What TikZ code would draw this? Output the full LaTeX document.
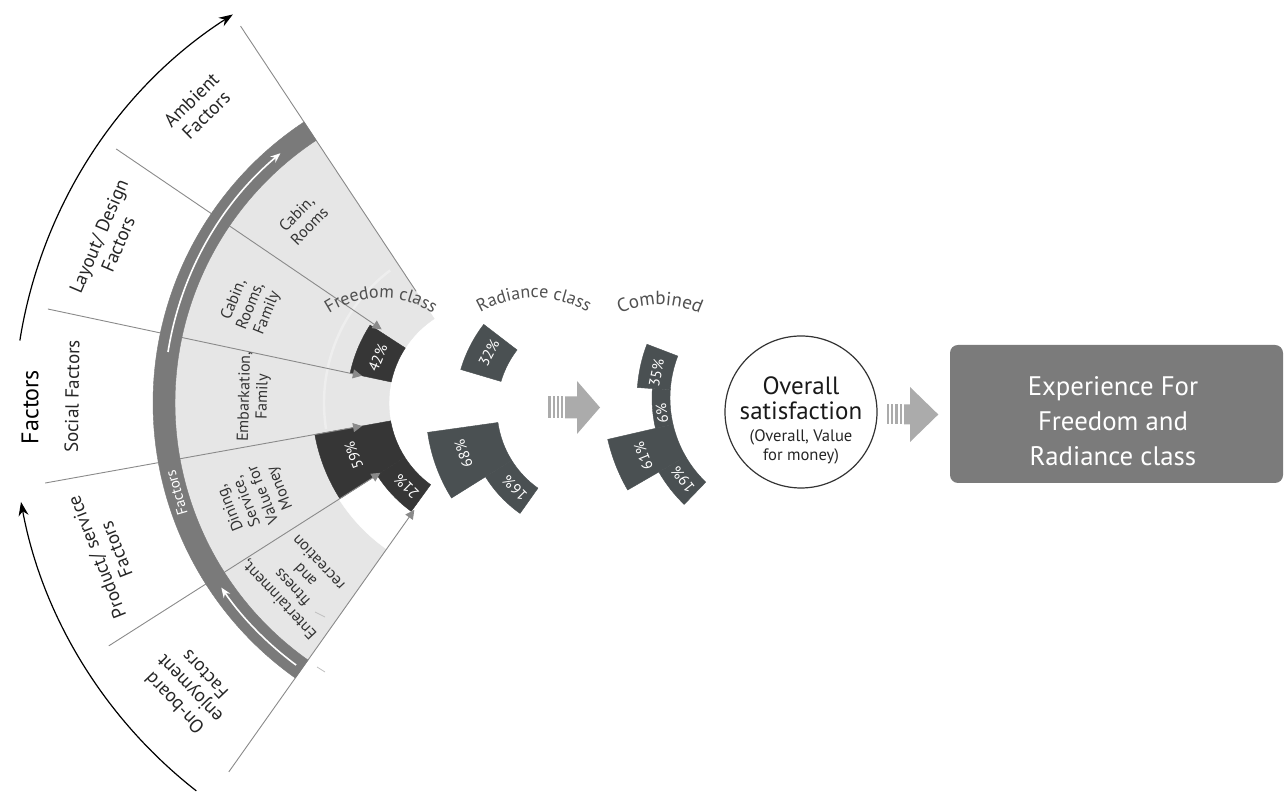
\documentclass[tikz,border=0pt]{standalone}
\usepackage{fontspec}
\setmainfont{PT Sans}
\usetikzlibrary{calc,arrows.meta,decorations.text}
\definecolor{lg}{HTML}{E6E6E6}
\definecolor{bandc}{HTML}{7A7A7A}
\definecolor{fblk}{HTML}{363636}
\definecolor{rblk}{HTML}{4A5052}
\definecolor{radc}{HTML}{8A8A8A}
\definecolor{agray}{HTML}{ABABAB}
\definecolor{boxg}{HTML}{7B7B7B}
\definecolor{lblc}{HTML}{505050}
\newcommand{\annsec}[6]{%
  \path[fill=#1, draw=#1, line width=0.2pt] ($(#2)+(#3:#5)$) arc[start angle=#3, end angle=#4, radius=#5]
    -- ($(#2)+(#4:#6)$) arc[start angle=#4, end angle=#3, radius=#6] -- cycle;}
\begin{document}
\begin{tikzpicture}[x=0.5pt,y=0.5pt,
  outlbl/.style={align=center, text=black!85, font=\fontsize{9.5}{10.5}\selectfont, inner sep=0pt},
  inlbl/.style={align=center, text=black!80, font=\fontsize{8}{9}\selectfont, inner sep=0pt},
  pct/.style={text=white, font=\fontsize{7.5}{8}\selectfont, inner sep=0pt},
  radline/.style={draw=radc, line width=0.45pt},
  tipline/.style={radline, -{Triangle[length=4.5pt,width=4.5pt]}},
  bigarc/.style={line width=0.6pt, -{Stealth[length=7pt,width=5pt]}},
  bandarrow/.style={white, line width=0.8pt, -{Stealth[length=5pt,width=4pt]}},
  tick/.style={draw=black!25, line width=0.4pt},
  bigarrow/.style={fill=agray}]
\useasboundingbox (0,0) rectangle (1284,796);
\coordinate (C1) at (490,393);
\coordinate (C2) at (594,387);
\coordinate (C3) at (787,398);
\coordinate (Co) at (490,381);
\coordinate (T1) at (381,404);
\coordinate (T2) at (534,391);
\coordinate (T3) at (660,398);

% light gray field
\annsec{lg}{C1}{123.5}{234.7}{101}{316}
\annsec{white}{C1}{212.5}{235.5}{99}{179}
\draw[white, line width=1.2pt, opacity=0.35] ($(C1)+(127:166)$) arc[start angle=127, end angle=189, radius=166];

% Freedom class blocks
\annsec{fblk}{C1}{147}{168}{101}{143}
\annsec{fblk}{C1}{190.2}{212.5}{101}{178}
\annsec{fblk}{C1}{212.5}{234}{101}{134}

% radial lines
\coordinate (Lo0) at ($(C1)+(123.5:452)$);
\coordinate (Li0) at ($(C1)+(123.5:134)$);
\coordinate (Lo1) at ($(C1)+(145.8:452)$);
\coordinate (Li1) at ($(C1)+(145.8:131)$);
\coordinate (Lo2) at ($(C1)+(168:452)$);
\coordinate (Li2) at ($(C1)+(168:131)$);
\coordinate (Lo3) at ($(C1)+(190.2:452)$);
\coordinate (Li3) at ($(C1)+(190.2:130)$);
\coordinate (Lo4) at ($(C1)+(212.5:452)$);
\coordinate (Li4) at ($(C1)+(212.5:130)$);
\coordinate (Lo5) at ($(C1)+(234.7:452)$);
\coordinate (Li5) at ($(C1)+(234.7:131)$);
\draw[radline] (Lo0) -- (Li0);
\draw[tipline] (Lo1) -- (Li1);
\draw[tipline] (Lo2) -- (Li2);
\draw[tipline] (Lo3) -- (Li3);
\draw[tipline] (Lo4) -- (Li4);
\draw[tipline] (Lo5) -- (Li5);

% band
\annsec{bandc}{C1}{123.5}{234.7}{315}{337}
\draw[bandarrow] ($(C1)+(171:326)$) arc[start angle=171, end angle=130, radius=326];
\draw[bandarrow] ($(C1)+(233.5:326)$) arc[start angle=233.5, end angle=214.5, radius=326];
\node[white, rotate=106, font=\fontsize{7.5}{9}\selectfont, inner sep=0pt] (bandlbl) at ($(C1)+(196:326)$) {Factors};

% small ticks
\coordinate (k1a) at (315,184); \coordinate (k1b) at (325,179);
\coordinate (k2a) at (317,129); \coordinate (k2b) at (325,124);
\draw[tick] (k1a) -- (k1b);
\draw[tick] (k2a) -- (k2b);

% outer arcs and title
\draw[bigarc] ($(Co)+(171:476)$) arc[start angle=171, end angle=122.7, radius=476];
\draw[bigarc] ($(Co)+(232:477)$) arc[start angle=232, end angle=190.5, radius=477];
\node[font=\fontsize{12}{14}\selectfont, rotate=90, inner sep=0pt] (factors) at (30,389) {Factors};

% outer labels
\node[outlbl, rotate=44.6] (amb) at ($(C1)+(134.6:415)$) {Ambient\\Factors};
\node[outlbl, rotate=66.9] (lay) at ($(C1)+(156.9:415)$) {Layout/ Design\\Factors};
\node[outlbl, rotate=89.1] (soc) at ($(C1)+(179.1:418)$) {Social Factors};
\node[outlbl, rotate=111.4] (prod) at ($(C1)+(201.4:412)$) {Product/ service\\Factors};
\node[outlbl, rotate=133.6] (onb) at ($(C1)+(223.6:415)$) {On-board\\enjoyment\\Factors};

% inner labels
\node[inlbl, rotate=45.6] (cab1) at ($(C1)+(135.6:262)$) {Cabin,\\Rooms};
\node[inlbl, rotate=68] (cab2) at ($(C1)+(158:258)$) {Cabin,\\Rooms,\\Family};
\node[inlbl, rotate=88.5] (emb) at ($(C1)+(178.5:236)$) {Embarkation,\\Family};
\node[inlbl, rotate=112] (din) at ($(C1)+(202:253)$) {Dining,\\Service,\\Value for\\Money};
\node[inlbl, rotate=133] (ent) at ($(C1)+(223:262)$) {Entertainment,\\fitness\\and\\recreation};

% Radiance blocks
\annsec{rblk}{C2}{142.5}{163.5}{97}{139}
\annsec{rblk}{C2}{188}{212}{97}{168}
\annsec{rblk}{C2}{212}{234.7}{97}{128}
% Combined blocks
\annsec{rblk}{C3}{159}{176}{117}{150}
\annsec{rblk}{C3}{176}{193}{117}{135}
\annsec{rblk}{C3}{193}{210}{117}{184}
\annsec{rblk}{C3}{210}{226}{117}{148}

% percentages
\node[pct, rotate=68] (p42) at ($(C1)+(158:121)$) {42\%};
\node[pct, rotate=111] (p59) at ($(C1)+(201:146)$) {59\%};
\node[pct, rotate=135] (p21) at ($(C1)+(225:118)$) {21\%};
\node[pct, rotate=62] (p32) at ($(C2)+(152:119)$) {32\%};
\node[pct, rotate=109] (p68) at ($(C2)+(199:138)$) {68\%};
\node[pct, rotate=135] (p16) at ($(C2)+(225:112)$) {16\%};
\node[pct, rotate=79] (p35) at ($(C3)+(169:133)$) {35\%};
\node[pct, rotate=97] (p6) at ($(C3)+(187:126)$) {6\%};
\node[pct, rotate=112] (p61) at ($(C3)+(202:155)$) {61\%};
\node[pct, rotate=128] (p19) at ($(C3)+(218:132)$) {19\%};

% curved class labels
\path[decorate, decoration={text along path, text align=center,
  text={|\color{lblc}\fontsize{9}{10}\selectfont|Freedom class}}]
  ($(T1)+(140:94)$) arc[start angle=140, end angle=40, radius=94];
\path[decorate, decoration={text along path, text align=center,
  text={|\color{lblc}\fontsize{9}{10}\selectfont|Radiance class}}]
  ($(T2)+(150:107)$) arc[start angle=150, end angle=30, radius=107];
\path[decorate, decoration={text along path, text align=center,
  text={|\color{lblc}\fontsize{9.5}{10}\selectfont|Combined}}]
  ($(T3)+(140:93)$) arc[start angle=140, end angle=40, radius=93];

% big arrow 1
\fill[bigarrow] (548.3,377.5) rectangle (550.7,399.5);
\fill[bigarrow] (552.7,377.5) rectangle (555,399.5);
\fill[bigarrow] (556.7,377.5) rectangle (559.3,399.5);
\fill[bigarrow] (560.7,377.5) rectangle (563.3,399.5);
\fill[bigarrow] (565,377.5) -- (577,377.5) -- (577,362) -- (600,388.5) -- (577,415) -- (577,399.5) -- (565,399.5) -- cycle;

% satisfaction circle
\node[circle, draw=black!80, line width=0.6pt, minimum size=76pt, inner sep=0pt] (sat) at (801,384) {};
\node[align=center, inner sep=0pt, font=\fontsize{12.5}{12.5}\selectfont, text=black!90] (sattitle) at (801,398) {Overall\\satisfaction};
\node[align=center, inner sep=0pt, font=\fontsize{8.3}{9.3}\selectfont, text=black!85] (satsub) at (801,349) {(Overall, Value\\for money)};

% big arrow 2
\fill[bigarrow] (887,371.5) rectangle (889,391.5);
\fill[bigarrow] (891,371.5) rectangle (893,391.5);
\fill[bigarrow] (895,371.5) rectangle (897.5,391.5);
\fill[bigarrow] (899.5,371.5) rectangle (902,391.5);
\fill[bigarrow] (904,371.5) -- (910,371.5) -- (910,354) -- (938.3,381.5) -- (910,409) -- (910,391.5) -- (904,391.5) -- cycle;

% result box
\node[fill=boxg, rounded corners=4pt, minimum width=166.5pt, minimum height=69pt, inner sep=0pt] (box) at (1116.5,382) {};
\node[align=center, inner sep=0pt, text=white, font=\fontsize{13.4}{17.5}\selectfont] (boxtext) at (1113,375) {Experience For\\Freedom and\\Radiance class};
\end{tikzpicture}
\end{document}
